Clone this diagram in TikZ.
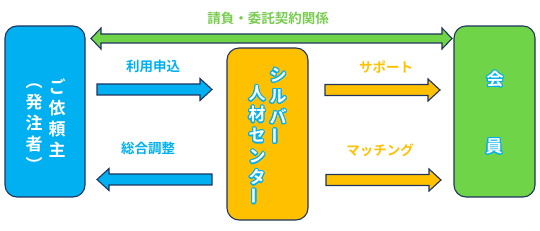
\documentclass[tikz,border=0pt]{standalone}
\usepackage{fontspec}
\usepackage{tikz}
\usepackage{xcolor}
\usepackage{contour}
\usetikzlibrary{calc,positioning}
\newfontfamily\jpfont{Noto Sans CJK JP}[BoldFont={Noto Sans CJK JP Bold}]
\definecolor{scBlue}{RGB}{0,176,240}
\definecolor{scGold}{RGB}{255,192,0}
\definecolor{scLeaf}{RGB}{112,212,72}
\definecolor{scLeafText}{RGB}{120,204,80}
\definecolor{scInk}{RGB}{32,52,96}
\contourlength{1.1pt}
\newcommand{\tate}[1]{\contour{scBlue}{#1}}
\newcommand{\fatarrow}[4]{%
  \draw[fill=#1,draw=scInk,line width=1.1pt,line join=miter]
    ($(#2)+(0,5.5)$)--($(#3)+({-12*(#4)},5.5)$)--($(#3)+({-12*(#4)},11)$)--(#3)
    --($(#3)+({-12*(#4)},-11)$)--($(#3)+({-12*(#4)},-5.5)$)--($(#2)+(0,-5.5)$)--cycle;
}

\begin{document}
\begin{tikzpicture}[x=1pt,y=1pt,
    party/.style={draw=scInk,line width=1.1pt,rounded corners=12pt,inner sep=0pt},
    boxtext/.style={text=white,align=center,inner sep=0pt,
      font=\jpfont\bfseries\fontsize{17}{21}\selectfont},
    flowlabel/.style={inner sep=0pt,font=\jpfont\bfseries\fontsize{13.5}{15}\selectfont}]
  \useasboundingbox (0,0) rectangle (540,230);
  \node[party,fill=scBlue,minimum width=80,minimum height=171] (client) at (45,118.5) {};
  \node[party,fill=scGold,minimum width=81,minimum height=172] (center) at (267.5,96) {};
  \node[party,fill=scLeaf,minimum width=81,minimum height=171] (member) at (494.5,118.5) {};

  \coordinate (gL) at (91,191.5);
  \coordinate (gR) at (452,191.5);
  \draw[fill=scLeaf,draw=scInk,line width=1.1pt,line join=miter]
    (gL)--($(gL)+(10,10.5)$)--($(gL)+(10,4.5)$)--($(gR)+(-10,4.5)$)--($(gR)+(-10,10.5)$)--(gR)
    --($(gR)+(-10,-10.5)$)--($(gR)+(-10,-4.5)$)--($(gL)+(10,-4.5)$)--($(gL)+(10,-10.5)$)--cycle;
  \node[flowlabel,text=scLeafText] (contract) at (268,212) {請負・委託契約関係};

  \coordinate (reqS) at (97,140.5);
  \coordinate (reqE) at (212,140.5);
  \fatarrow{scBlue}{reqS}{reqE}{1}
  \node[flowlabel,text=scBlue] (request) at (153,164) {利用申込};

  \coordinate (adjS) at (212,50.5);
  \coordinate (adjE) at (97,50.5);
  \fatarrow{scBlue}{adjS}{adjE}{-1}
  \node[flowlabel,text=scBlue] (adjust) at (148,82) {総合調整};

  \coordinate (supS) at (325,140);
  \coordinate (supE) at (440,140);
  \fatarrow{scGold}{supS}{supE}{1}
  \node[flowlabel,text=scGold] (support) at (386,163) {サポート};

  \coordinate (matS) at (326,50);
  \coordinate (matE) at (441,50);
  \fatarrow{scGold}{matS}{matE}{1}
  \node[flowlabel,text=scGold] (matching) at (380,80) {マッチング};

  \node[boxtext] (clientA) at (57,111) {\tate{ご}\\\tate{依}\\\tate{頼}\\\tate{主}};
  \node[boxtext] (clientB) at (34,101.5) {\tate{︵}\\\tate{発}\\\tate{注}\\\tate{者}\\\tate{︶}};
  \node[boxtext] (centerA) at (278,123) {\tate{シ}\\\tate{ル}\\\tate{バ}\\\tate{\rotatebox{90}{ー}}};
  \node[boxtext] (centerB) at (257,84) {\tate{人}\\\tate{材}\\\tate{セ}\\\tate{ン}\\\tate{タ}\\\tate{\rotatebox{90}{ー}}};
  \node[boxtext] (memberA) at (495,150) {\tate{会}};
  \node[boxtext] (memberB) at (494,83) {\tate{員}};
\end{tikzpicture}
\end{document}
